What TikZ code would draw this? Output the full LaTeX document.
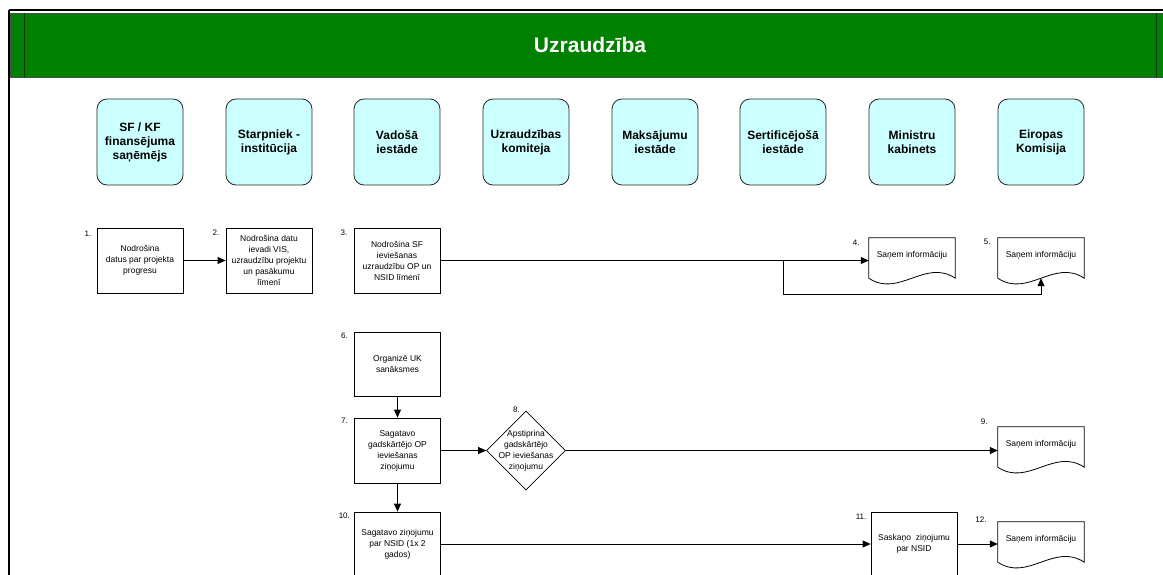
\documentclass[tikz,border=0pt]{standalone}
\usepackage{fontspec}
\setmainfont{Liberation Sans}
\usetikzlibrary{arrows.meta,shapes.geometric,calc}
\definecolor{bangreen}{HTML}{008000}
\definecolor{lanecyan}{HTML}{CCFFFF}
\newcommand\docshape[1]{%
  \draw[line width=0.8pt] ($(#1.south west)+(0,6)$) -- (#1.north west) -- (#1.north east) -- ($(#1.south east)+(0,6)$)
    .. controls ($(#1.south east)+(-30,-14)$) and ($(#1.south west)+(30,26)$) .. ($(#1.south west)+(0,6)$) -- cycle;}
\begin{document}
\begin{tikzpicture}[x=1pt,y=-1pt,
 lane/.style={draw=black!85, fill=lanecyan, rounded corners=10pt, minimum width=86pt, minimum height=86pt, inner sep=0pt, align=center, font=\fontsize{12}{14}\selectfont\bfseries, line width=0.8pt},
 proc/.style={draw, line width=0.8pt, minimum width=86pt, minimum height=65pt, inner sep=0pt, align=center, font=\fontsize{8.5}{11}\selectfont},
 docbox/.style={minimum width=86pt, minimum height=34pt, inner sep=0pt, align=center, font=\fontsize{8.5}{11}\selectfont},
 num/.style={anchor=base east, font=\fontsize{8}{9}\selectfont, inner sep=0pt},
 arr/.style={-{Triangle[length=8pt,width=7pt]}, line width=0.8pt},
 ln/.style={line width=0.8pt},
]
\useasboundingbox (0,0) rectangle (1163,575);
\clip (0,0) rectangle (1163,575);
\fill[white] (0,0) rectangle (1163,575);
% banner
\draw[line width=0.7pt, fill=bangreen, draw=black!70] (10.5,13) rectangle (1170,77.5);
\draw[black!60!bangreen, line width=1pt] (24,13) -- (24,77);
\draw[black!60!bangreen, line width=1pt] (1156,13) -- (1156,77);
\draw[line width=2pt] (8.5,10.5) -- (1163,10.5);
\draw[line width=2pt] (8.5,10.5) -- (8.5,575);
\node[font=\fontsize{21}{24}\selectfont\bfseries, text=white] (title) at (590,45) {Uzraudzība};
% lanes
\node[lane] (l1) at (140,142) {SF / KF\\finansējuma\\saņēmējs};
\node[lane] (l2) at (269,142) {Starpniek -\\institūcija};
\node[lane] (l3) at (397,142) {Vadošā\\iestāde};
\node[lane] (l4) at (526,142) {Uzraudzības\\komiteja};
\node[lane] (l5) at (655,142) {Maksājumu\\iestāde};
\node[lane] (l6) at (783,142) {Sertificējošā\\iestāde};
\node[lane] (l7) at (912,142) {Ministru\\kabinets};
\node[lane] (l8) at (1041,142) {Eiropas\\Komisija};
% process boxes
\node[proc] (b1) at (140,260.5) {Nodrošina\\datus par projekta\\progresu};
\node[proc] (b2) at (269,260.5) {Nodrošina datu\\ievadi VIS,\\uzraudzību projektu\\un pasākumu\\līmenī};
\node[proc] (b3) at (397,260.5) {Nodrošina SF\\ieviešanas\\uzraudzību OP un\\NSID līmenī};
\node[proc, minimum height=64pt] (b6) at (397.5,364) {Organizē UK\\sanāksmes};
\node[proc] (b7) at (397.5,450.5) {Sagatavo\\gadskārtējo OP\\ieviešanas\\ziņojumu};
\node[proc, minimum height=64pt] (b10) at (397.5,544) {Sagatavo ziņojumu\\par NSID (1x 2\\gados)};
\node[proc, minimum height=64pt] (b11) at (914,544) {Saskaņo~ ziņojumu\\par NSID};
\node[diamond, draw, line width=0.8pt, minimum width=79pt, minimum height=79pt, inner sep=0pt,
  label={[font=\fontsize{8.5}{11}\selectfont, align=center]center:{Apstiprina\\gadskārtējo\\OP ieviešanas\\ziņojumu}}] (dia) at (526,450.5) {};
% documents
\node[docbox] (d4) at (912,255) {Saņem informāciju};
\node[docbox] (d5) at (1041,255) {Saņem informāciju};
\node[docbox] (d9) at (1041,444) {Saņem informāciju};
\node[docbox] (d12) at (1041,539) {Saņem informāciju};
\docshape{d4}
\docshape{d5}
\docshape{d9}
\docshape{d12}
% numbers
\node[num] (n1) at ($(b1.north west)+(-5,8.5)$) {1.};
\node[num] (n2) at ($(b2.north west)+(-6,8)$) {2.};
\node[num] (n3) at ($(b3.north west)+(-6,8)$) {3.};
\node[num] (n4) at ($(d4.north west)+(-9,8)$) {4.};
\node[num] (n5) at ($(d5.north west)+(-7,7)$) {5.};
\node[num] (n6) at ($(b6.north west)+(-6,7)$) {6.};
\node[num] (n7) at ($(b7.north west)+(-6,6)$) {7.};
\node[num] (n8) at ($(dia.north)+(-6,2)$) {8.};
\node[num] (n9) at ($(d9.north west)+(-10,-2)$) {9.};
\node[num] (n10) at ($(b10.north west)+(-4,7)$) {10.};
\node[num] (n11) at ($(b11.north west)+(-4,8)$) {11.};
\node[num] (n12) at ($(d12.north west)+(-11,1)$) {12.};
% connectors
\draw[arr] (b1) -- (b2);
\coordinate (br) at (783,260.5);
\coordinate (d5b) at ($(d5.south)+(0,6)$);
\draw[ln] (b3.east) -- (br);
\draw[arr] (br) -- (d4.west |- br);
\draw[arr] (br) -- ++(0,33.5) -| (d5b);
\draw[arr] (b6) -- (b7);
\draw[arr] (b7) -- (dia);
\draw[arr] (dia.east) -- (d9.west |- dia.east);
\draw[arr] (b7) -- (b10);
\draw[arr] (b10) -- (b11);
\draw[arr] (b11.east) -- (d12.west |- b11.east);
\end{tikzpicture}
\end{document}
